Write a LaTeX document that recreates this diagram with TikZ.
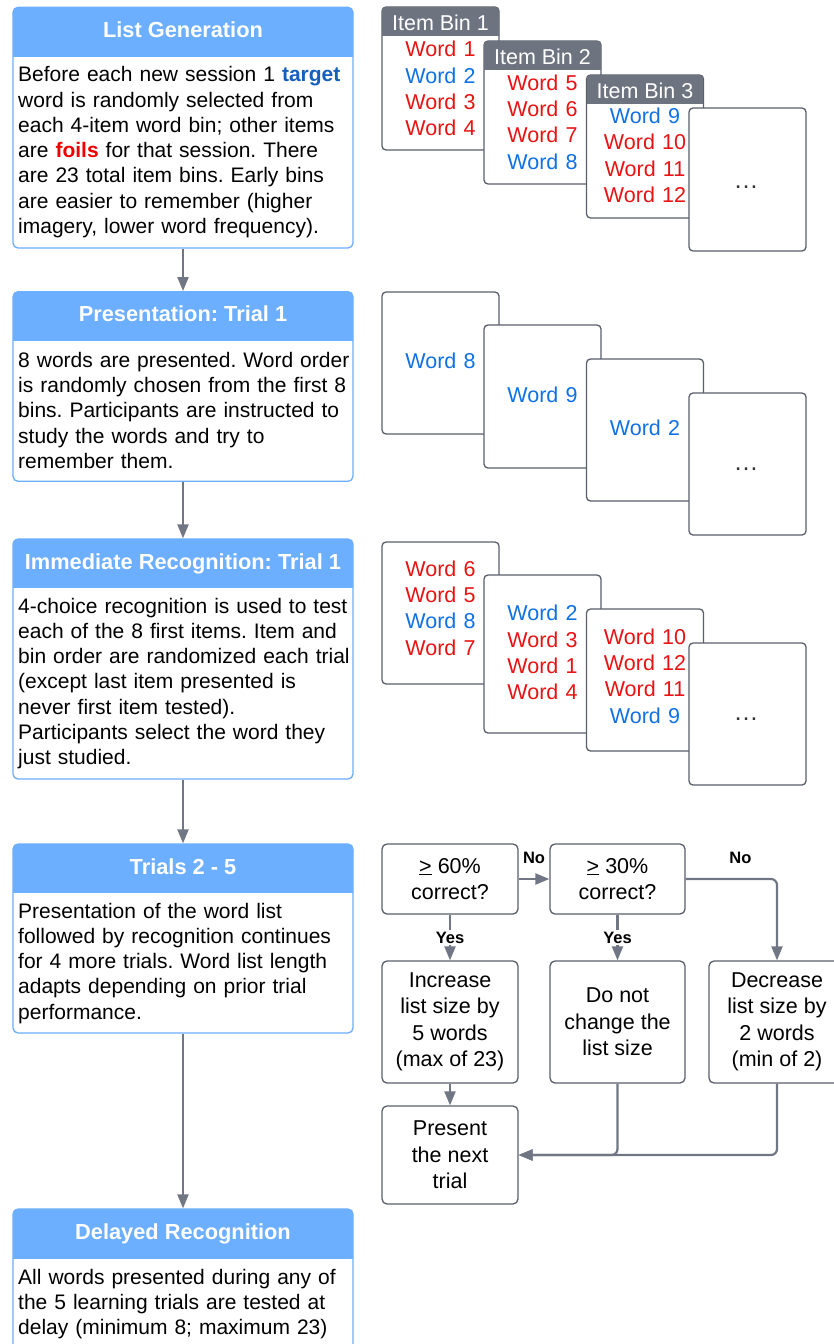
\documentclass[tikz,border=0pt]{standalone}
\usepackage{fontspec}
\setmainfont{Liberation Sans}
\usetikzlibrary{arrows.meta}
\frenchspacing
\definecolor{hdrblue}{RGB}{108,174,255}
\definecolor{cardgray}{RGB}{110,115,128}
\definecolor{cardline}{RGB}{90,95,106}
\definecolor{arrgray}{RGB}{112,118,132}
\definecolor{wred}{RGB}{232,19,19}
\definecolor{wblue}{RGB}{16,113,229}
\definecolor{tblue}{RGB}{21,96,189}
\definecolor{fred}{RGB}{240,0,0}
\definecolor{dotgray}{RGB}{50,50,55}
\newcommand\lefthead[4]{%
  \begin{scope}
    \clip (13,#2) rectangle (353,#3);
    \fill[hdrblue, rounded corners=5pt] (13,#2) rectangle (353,#3+12);
  \end{scope}
  \node[hdrtitle] (#1) at (183,#2+30) {#4};}
\newcommand\cardhead[5]{%
  \begin{scope}
    \clip (#2,#3) rectangle (#4,#3+28);
    \fill[cardgray, rounded corners=4pt] (#2,#3) rectangle (#4,#3+40);
  \end{scope}
  \node[cardtitle] (#1) at ({(#2+#4)/2},#3+23.5) {#5};}
\begin{document}
\begin{tikzpicture}[x=1pt,y=-1pt,
  leftbox/.style={draw=hdrblue, line width=1.3pt, rounded corners=5pt, fill=white, minimum width=340pt, inner sep=0pt},
  hdrtitle/.style={anchor=base, text=white, inner sep=0pt, font=\fontsize{21.8}{26}\selectfont\bfseries},
  bodytext/.style={anchor=base west, text width=345pt, align=left, inner sep=0pt, font=\fontsize{21}{25.3}\selectfont},
  card/.style={draw=cardline, fill=white, line width=1.3pt, rounded corners=4pt, minimum width=117pt, inner sep=0pt},
  cardtitle/.style={anchor=base, text=white, inner sep=0pt, font=\fontsize{21.5}{26.4}\selectfont},
  cardtext/.style={anchor=base, text width=115pt, align=center, inner sep=0pt, font=\fontsize{21.5}{26.4}\selectfont},
  dots/.style={anchor=base, text=dotgray, inner sep=0pt, font=\fontsize{25}{28}\selectfont},
  dbox/.style={draw=cardline, fill=white, line width=1.3pt, rounded corners=5pt, minimum width=136pt, inner sep=0pt, align=center, font=\fontsize{21.5}{26.4}\selectfont},
  arr/.style={draw=arrgray, line width=2.2pt, -{Triangle[length=14pt,width=11pt]}},
  lbl/.style={text=black, inner sep=2pt, font=\fontsize{16.5}{18}\selectfont\bfseries}
]
\useasboundingbox (0,0) rectangle (834,1344);
\clip (0,0) rectangle (834,1344);

% ---------- left column ----------
\node[leftbox, minimum height=240.7pt] (lg) at (183,127.65) {};
\lefthead{lgt}{7.3}{56.7}{List Generation}
\node[bodytext] (lgb) at (18,81.7) {Before each new session 1 \textbf{\color{tblue}target}\\
word is randomly selected from\\
each 4-item word bin; other items\\
are \textbf{\color{fred}foils} for that session. There\\
are 23 total item bins. Early bins\\
are easier to remember (higher\\
imagery, lower word frequency).};

\node[leftbox, minimum height=189.6pt] (pt) at (183,386.5) {};
\lefthead{ptt}{291.7}{340.7}{Presentation: Trial 1}
\node[bodytext] (ptb) at (18,367.3) {8 words are presented. Word order\\
is randomly chosen from the first 8\\
bins. Participants are instructed to\\
study the words and try to\\
remember them.};

\node[leftbox, minimum height=240pt] (ir) at (183,659) {};
\lefthead{irt}{539}{587.5}{Immediate Recognition: Trial 1}
\node[bodytext] (irb) at (18,613) {4-choice recognition is used to test\\
each of the 8 first items. Item and\\
bin order are randomized each trial\\
(except last item presented is\\
never first item tested).\\
Participants select the word they\\
just studied.};

\node[leftbox, minimum height=189pt] (t25) at (183,938.5) {};
\lefthead{t25t}{844}{892.5}{Trials 2 - 5}
\node[bodytext] (t25b) at (18,918) {Presentation of the word list\\
followed by recognition continues\\
for 4 more trials. Word list length\\
adapts depending on prior trial\\
performance.};

\node[leftbox, minimum height=191pt] (dr) at (183,1304.5) {};
\lefthead{drt}{1209}{1258}{Delayed Recognition}
\node[bodytext] (drb) at (18,1284) {All words presented during any of\\
the 5 learning trials are tested at\\
delay (minimum 8; maximum 23)};

% ---------- row 1: item bins ----------
\node[card, minimum height=143pt] (c11) at (440.5,78.5) {};
\cardhead{c11h}{382}{7}{499}{Item Bin 1}
\node[cardtext] (c11w) at (440.5,56.7) {\color{wred}Word 1\\\color{wblue}Word 2\\\color{wred}Word 3\\\color{wred}Word 4};

\node[card, minimum height=143pt] (c12) at (542.5,112.5) {};
\cardhead{c12h}{484}{41}{601}{Item Bin 2}
\node[cardtext] (c12w) at (542.5,90) {\color{wred}Word 5\\\color{wred}Word 6\\\color{wred}Word 7\\\color{wblue}Word 8};

\node[card, minimum height=143pt] (c13) at (645,146.5) {};
\cardhead{c13h}{587}{75}{703}{Item Bin 3}
\node[cardtext] (c13w) at (645,123.3) {\color{wblue}Word 9\\\color{wred}Word 10\\\color{wred}Word 11\\\color{wred}Word 12};

\node[card, minimum height=143pt] (c14) at (747.5,179.5) {};
\node[dots] (c14d) at (746,188) {\char"2026};

% ---------- row 2: presentation ----------
\node[card, minimum height=142pt] (c21) at (440.5,363) {};
\node[cardtext] (c21w) at (440.5,368.3) {\color{wblue}Word 8};
\node[card, minimum height=143pt] (c22) at (542.5,396.5) {};
\node[cardtext] (c22w) at (542.5,402) {\color{wblue}Word 9};
\node[card, minimum height=142pt] (c23) at (645,430) {};
\node[cardtext] (c23w) at (645,435.7) {\color{wblue}Word 2};
\node[card, minimum height=142pt] (c24) at (747.5,464) {};
\node[dots] (c24d) at (746,470) {\char"2026};

% ---------- row 3: recognition ----------
\node[card, minimum height=142pt] (c31) at (440.5,613) {};
\node[cardtext] (c31w) at (440.5,576) {\color{wred}Word 6\\\color{wred}Word 5\\\color{wblue}Word 8\\\color{wred}Word 7};
\node[card, minimum height=158pt] (c32) at (542.5,654) {};
\node[cardtext] (c32w) at (542.5,620.7) {\color{wblue}Word 2\\\color{wred}Word 3\\\color{wred}Word 1\\\color{wred}Word 4};
\node[card, minimum height=142pt] (c33) at (645,680) {};
\node[cardtext] (c33w) at (645,644) {\color{wred}Word 10\\\color{wred}Word 12\\\color{wred}Word 11\\\color{wblue}Word 9};
\node[card, minimum height=142pt] (c34) at (747.5,714) {};
\node[dots] (c34d) at (746,720) {\char"2026};

% ---------- decision flow ----------
\node[dbox, minimum height=70pt] (q60) at (450,879) {\underline{>} 60\%\\correct?};
\node[dbox, minimum width=135pt, minimum height=70pt] (q30) at (617.5,879) {\underline{>} 30\%\\correct?};
\node[dbox, minimum height=122pt] (inc) at (450,1022) {Increase\\list size by\\5 words\\(max of 23)};
\node[dbox, minimum width=135pt, minimum height=122pt] (same) at (617.5,1022) {Do not\\change the\\list size};
\node[dbox, minimum height=122pt] (dec) at (777,1022) {Decrease\\list size by\\2 words\\(min of 2)};
\node[dbox, minimum height=98pt] (next) at (450,1155) {Present\\the next\\trial};

% ---------- connectors ----------
\draw[arr] (lg.south) -- (pt.north);
\draw[arr] (pt.south) -- (ir.north);
\draw[arr] (ir.south) -- (t25.north);
\draw[arr] (t25.south) -- (dr.north);

\draw[arr] (q60.east) -- (q30.west) node[lbl, midway, yshift=21pt] {No};
\draw[arr, rounded corners=6pt] (q30.east) -| (dec.north) node[lbl, pos=0.3, yshift=21pt] {No};
\draw[arr] (q60.south) -- (inc.north) node[lbl, midway, fill=white] {Yes};
\draw[arr] (q30.south) -- (same.north) node[lbl, midway, fill=white] {Yes};
\draw[arr] (inc.south) -- (next.north);
\draw[arr, rounded corners=6pt] (dec.south) |- (next.east);
\draw[arr, rounded corners=6pt] (same.south) |- (next.east);
\end{tikzpicture}
\end{document}
